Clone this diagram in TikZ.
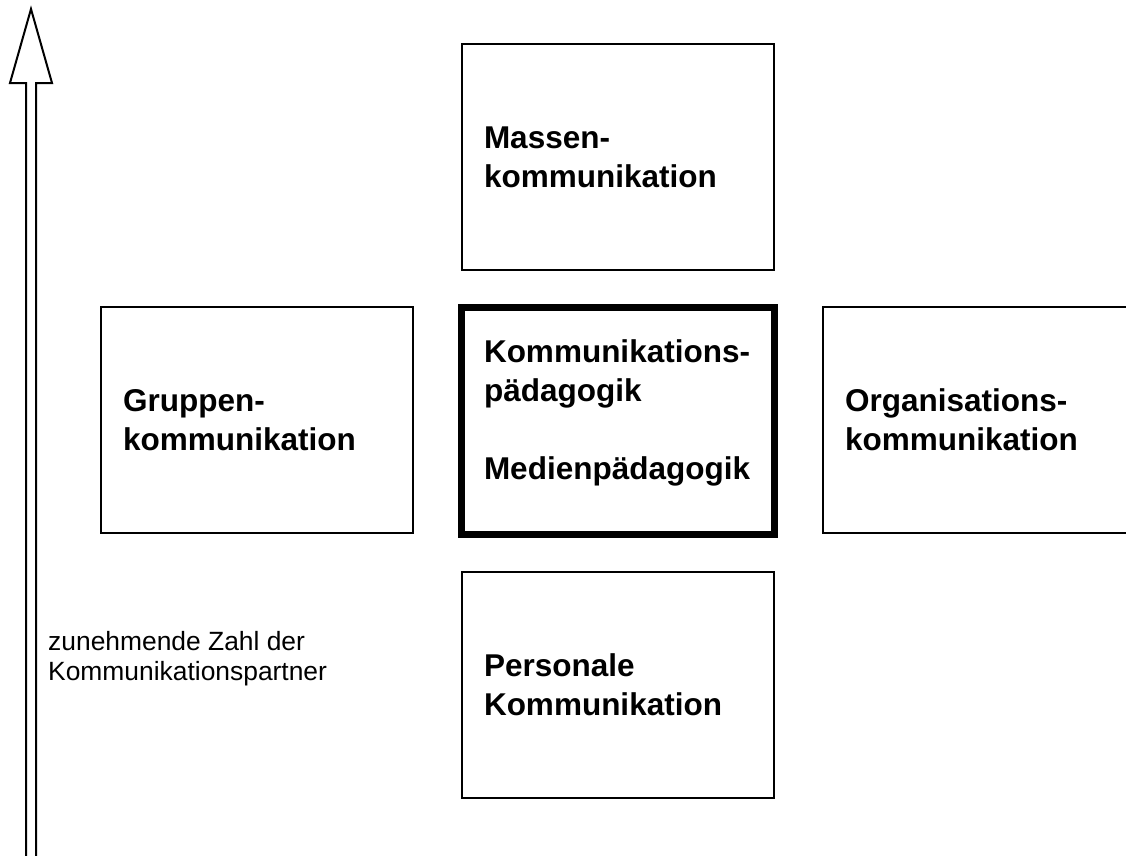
\documentclass[tikz,border=0pt]{standalone}
\usepackage{fontspec}
\setmainfont{Liberation Sans}

\begin{document}
\begin{tikzpicture}[x=1pt,y=-1pt,
  feld/.style={draw,line width=2pt,minimum width=312pt,minimum height=226pt,
    text width=268pt,inner xsep=22pt,align=left,
    font=\bfseries\fontsize{31.5}{39}\selectfont},
  zentrum/.style={feld,line width=7pt,minimum width=313pt,minimum height=227pt,
    text depth=140pt}]
  \useasboundingbox (0,0) rectangle (1126,855);

  % стрелка слева
  \draw[line width=2pt,line join=miter]
    (26,860) -- (26,83) -- (10,83) -- (31,9) -- (52,83) -- (36,83) -- (36,860);
  \node[anchor=base west,inner sep=0pt,align=left,
    font=\fontsize{26.4}{30}\selectfont] (partner) at (48,680)
    {zunehmende Zahl der\\Kommunikationspartner};

  % центральный блок
  \node[zentrum] (paed) at (618,421)
    {Kommunikations-\\pädagogik\\[39pt]Medienpädagogik};

  % блоки вокруг
  \node[feld] (massen) at (618,157) {Massen-\\kommunikation};
  \node[feld] (gruppe) at (257,420) {Gruppen-\\kommunikation};
  \node[feld] (organ) at (979,420) {Organisations-\\kommunikation};
  \node[feld] (person) at (618,685) {Personale\\Kommunikation};
\end{tikzpicture}
\end{document}
